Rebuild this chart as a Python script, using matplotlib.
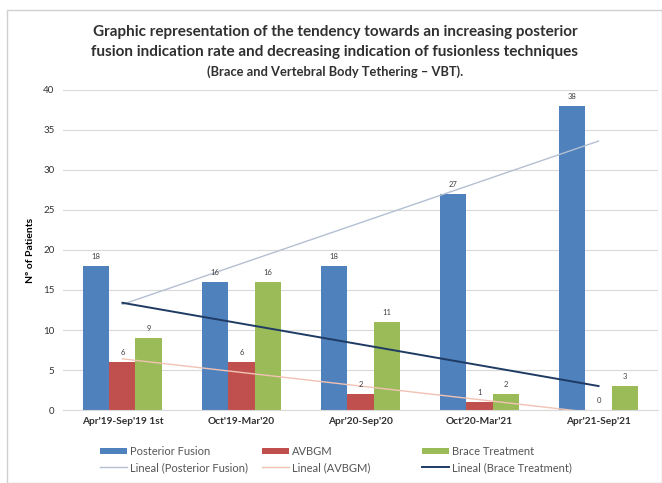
import matplotlib.pyplot as plt
import numpy as np
from matplotlib.patches import Rectangle

periods = ["Apr'19-Sep'19 1st", "Oct'19-Mar'20", "Apr'20-Sep'20",
           "Oct'20-Mar'21", "Apr'21-Sep'21"]
posterior_fusion = [18, 16, 18, 27, 38]
avbgm = [6, 6, 2, 1, 0]
brace = [9, 16, 11, 2, 3]

series = [
    ("Posterior Fusion", posterior_fusion, "#4f81bd", "#b4c0d2", 1.0),
    ("AVBGM", avbgm, "#c0504d", "#f2c2b4", 1.0),
    ("Brace Treatment", brace, "#9bbb59", "#1f3b64", 1.4),
]

plt.rcParams["font.family"] = ["Lato", "DejaVu Sans"]

fig = plt.figure(figsize=(6.62, 4.83), dpi=100)
fig.patches.append(Rectangle((0.011, 0.0), 0.989, 0.98, transform=fig.transFigure,
                             fill=False, edgecolor="#d0d0d0", lw=1.0))

ax = fig.add_axes([0.095, 0.151, 0.899, 0.663])

x = np.arange(len(periods))
w = 0.22
bars = []
for i, (name, vals, col, _, _) in enumerate(series):
    b = ax.bar(x + (i - 1) * w, vals, w, color=col, label=name, zorder=2)
    bars.append(b)
    for xi, v in zip(x + (i - 1) * w, vals):
        ax.text(xi, v + 0.7, str(v), ha="center", va="bottom", fontsize=5.5,
                color="#404040", zorder=4)

# linear trendlines (Excel style), fitted on category index
trends = []
xs = x + 1
for name, vals, _, tcol, tlw in series:
    k, c = np.polyfit(xs, vals, 1)
    ln, = ax.plot(x, k * xs + c, color=tcol, lw=tlw, zorder=3,
                  label=f"Lineal ({name})")
    trends.append(ln)

ax.set_xlim(-0.5, 4.5)
ax.set_ylim(0, 40)
ax.set_yticks(range(0, 41, 5))
ax.set_xticks(x)
ax.set_xticklabels(periods, fontsize=7.3, fontweight="bold", color="#303030")
ax.tick_params(axis="y", labelsize=7, colors="#303030", length=0, pad=6)
ax.tick_params(axis="x", length=0, pad=5)
ax.grid(axis="y", color="#d9d9d9", lw=0.8, zorder=0)
for s in ["top", "right", "left"]:
    ax.spines[s].set_visible(False)
ax.spines["bottom"].set_color("#d9d9d9")
ax.set_ylabel("Nº of Patients", fontsize=7.5, fontweight="bold", labelpad=6)

fig.text(0.506, 0.934,
         "Graphic representation of the tendency towards an increasing posterior",
         ha="center", va="center", fontsize=11, fontweight="bold", color="#303030")
fig.text(0.506, 0.892,
         "fusion indication rate and decreasing indication of fusionless techniques",
         ha="center", va="center", fontsize=11, fontweight="bold", color="#303030")
fig.text(0.506, 0.851, "(Brace and Vertebral Body Tethering – VBT).",
         ha="center", va="center", fontsize=9.3, fontweight="bold", color="#303030")

# Excel-style legend: three equal-width columns
col_left = [100, 262, 422]
for j in range(3):
    leg = fig.legend([bars[j], trends[j]], [bars[j].get_label(), trends[j].get_label()],
                     loc="upper left", bbox_to_anchor=(col_left[j] / 662, 1 - 446 / 483),
                     frameon=False, fontsize=8, labelcolor="#555555",
                     handlelength=2.4, handleheight=0.55, handletextpad=0.3,
                     labelspacing=0.45, borderpad=0, borderaxespad=0)

fig.savefig("out.png", dpi=100)
